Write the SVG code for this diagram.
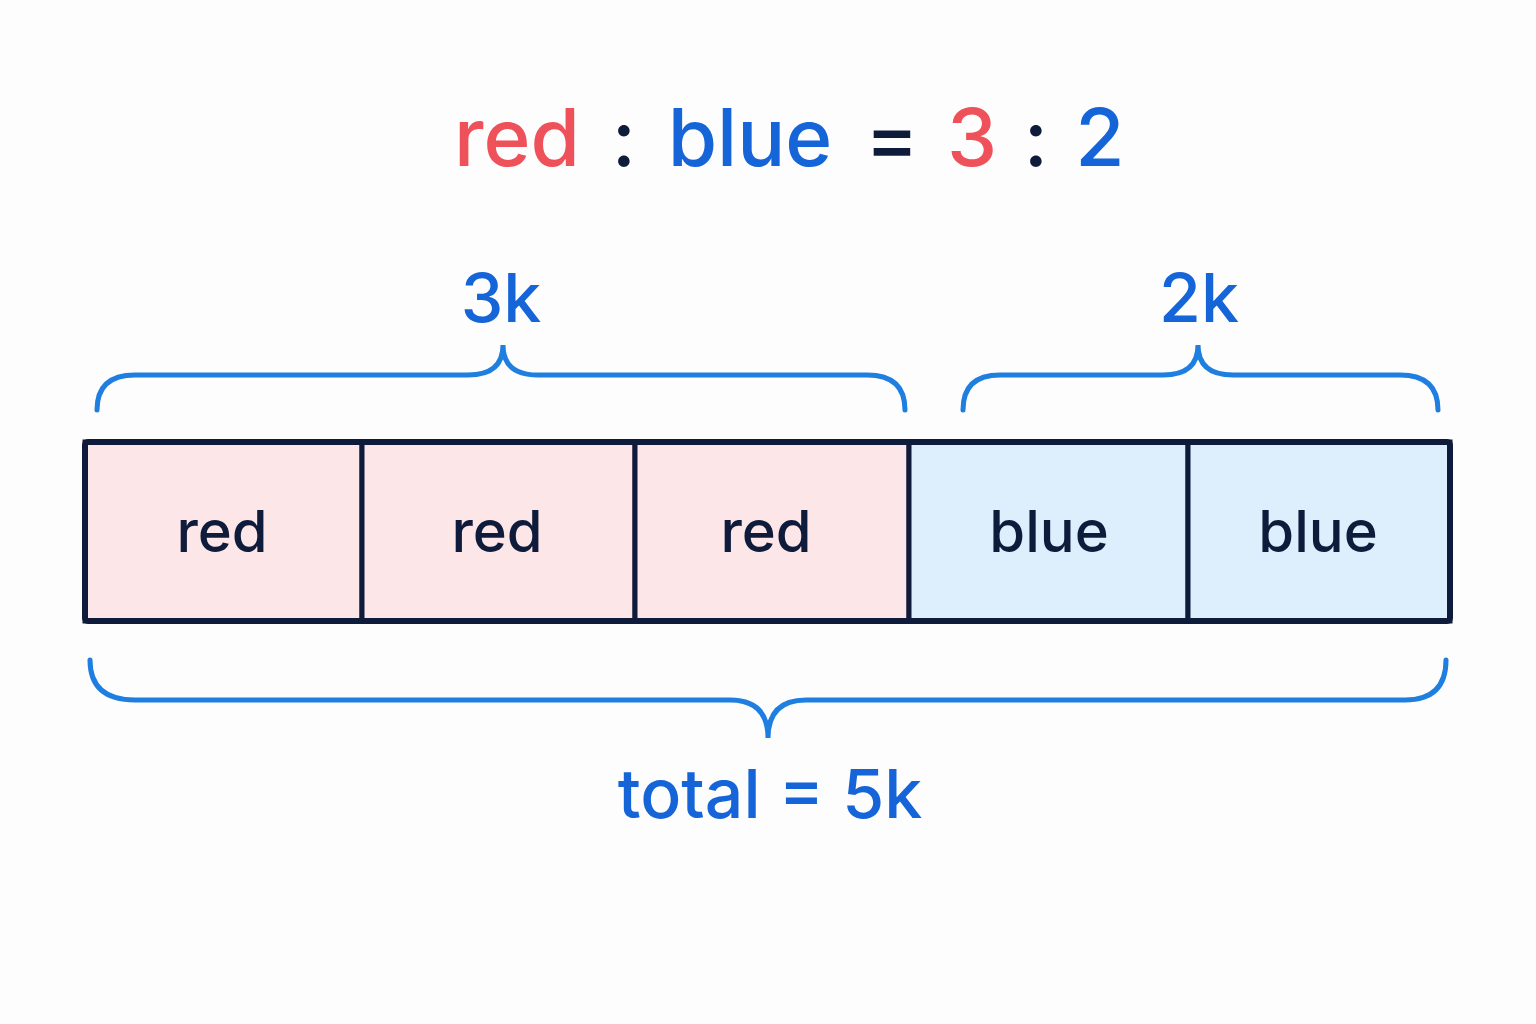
<svg xmlns="http://www.w3.org/2000/svg" width="1536" height="1024" viewBox="0 0 1536 1024">
<style>
text{font-family:"Inter","Noto Sans","Liberation Sans",sans-serif;text-anchor:middle}
.t{font-size:80px;font-weight:500}
.r{fill:#ef515b}.b{fill:#1565d8}.d{fill:#0f1b3a}
.cell{stroke:#0f1b3a;stroke-width:5}
.rc{fill:#fde6e8}.bc{fill:#ddeefd}
.ct{font-size:58px;font-weight:500;fill:#0f1b3a}
.br{fill:none;stroke:#1f7fe0;stroke-width:5;stroke-linecap:round}
.lb{font-size:68px;font-weight:500;fill:#1565d8}
</style>
<rect width="1536" height="1024" fill="#fdfdfd"/>
<g id="title">
<text class="t" y="166" x="517"><tspan class="r">red</tspan></text>
<text class="t d" y="166" x="624">:</text>
<text class="t b" y="166" x="750">blue</text>
<text class="t d" y="166" x="892">=</text>
<text class="t r" y="166" x="972">3</text>
<text class="t d" y="166" x="1036">:</text>
<text class="t b" y="166" x="1100">2</text>
</g>
<g id="cell1"><rect class="cell rc" x="85" y="442" width="277" height="179"/><text class="ct" x="222" y="552">red</text></g>
<g id="cell2"><rect class="cell rc" x="362" y="442" width="273" height="179"/><text class="ct" x="497" y="552">red</text></g>
<g id="cell3"><rect class="cell rc" x="635" y="442" width="274" height="179"/><text class="ct" x="766" y="552">red</text></g>
<g id="cell4"><rect class="cell bc" x="909" y="442" width="279" height="179"/><text class="ct" x="1049" y="552">blue</text></g>
<g id="cell5"><rect class="cell bc" x="1188" y="442" width="262" height="179"/><text class="ct" x="1318" y="552">blue</text></g>
<g id="outline"><rect x="85" y="442" width="1365" height="179" fill="none" stroke="#0f1b3a" stroke-width="6" rx="3"/></g>
<g id="connectors">
<path class="br" d="M97 410 Q97 375 135 375 L468 375 Q503 375 503 345 Q503 375 538 375 L867 375 Q905 375 905 410"/>
<path class="br" d="M963 410 Q963 375 1000 375 L1163 375 Q1198 375 1198 345 Q1198 375 1233 375 L1400 375 Q1438 375 1438 410"/>
<path class="br" d="M90 660 Q90 700 135 700 L730 700 Q768 700 768 738 Q768 700 806 700 L1405 700 Q1446 700 1446 660"/>
</g>
<g id="labels">
<text class="lb" x="501" y="322">3k</text>
<text class="lb" x="1199" y="322">2k</text>
<text class="lb" x="770" y="818">total = 5k</text>
</g>
</svg>
